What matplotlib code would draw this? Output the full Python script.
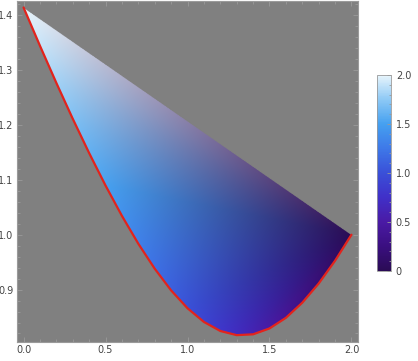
import numpy as np
import matplotlib
matplotlib.use("Agg")
import matplotlib.pyplot as plt
import matplotlib.tri as mtri
from matplotlib.colors import LinearSegmentedColormap, Normalize
from matplotlib.ticker import MultipleLocator, FormatStrFormatter
import matplotlib.cm as cm

# lower boundary (red curve)
curve_x = [0.0, 0.1, 0.2, 0.3, 0.4, 0.5, 0.6, 0.7, 0.8, 0.9, 1.0,
           1.1, 1.2, 1.3, 1.4, 1.5, 1.6, 1.7, 1.8, 1.9, 2.0]
curve_y = [1.4142, 1.3444, 1.2767, 1.2114, 1.1489, 1.0897, 1.0344, 0.9836,
           0.9381, 0.8986, 0.8660, 0.8411, 0.8246, 0.8170, 0.8185, 0.8292,
           0.8485, 0.8761, 0.9110, 0.9526, 1.0]
# colour value at each boundary point
curve_val = [2.0, 1.9, 1.8, 1.7, 1.6, 1.5, 1.4, 1.3, 1.2, 1.1, 1.0,
             0.9, 0.8, 0.7, 0.6, 0.5, 0.4, 0.3, 0.2, 0.1, 0.0]

cbar_ticks = [0, 0.5, 1.0, 1.5, 2.0]
cbar_labels = ["0", "0.5", "1.0", "1.5", "2.0"]

deepsea = LinearSegmentedColormap.from_list("deepsea", [
    (0.00, "#2a0b55"),
    (0.125, "#3a0f80"),
    (0.25, "#4a1aa5"),
    (0.375, "#4030c8"),
    (0.50, "#3a50d8"),
    (0.625, "#3e78e8"),
    (0.75, "#45a0f0"),
    (0.875, "#8cc8f5"),
    (1.00, "#e8f5fc"),
])

bg = "#808080"
txt = "#444444"
frame_c = "#9a9a9a"

xlim = (-0.04, 2.04)
ylim = (0.8045, 1.426)

fig = plt.figure(figsize=(4.18, 3.61), dpi=100)
ax = fig.add_axes([17 / 418, 19 / 361, 341 / 418, 341 / 361])
ax.set_facecolor(bg)

norm = Normalize(0, 2)
n = len(curve_x)
# region filled as a fan of vertex-coloured triangles from the right corner,
# colours blended linearly in RGB (like a polygon with vertex colours)
tris = [[n - 1, i, i + 1] for i in range(n - 2)]
tri = mtri.Triangulation(curve_x, curve_y, tris)
vcols = deepsea(norm(np.array(curve_val)))
gx, gy = np.meshgrid(np.linspace(*xlim, 900), np.linspace(*ylim, 800))
rgba = np.zeros(gx.shape + (4,))
for k in range(3):
    interp = mtri.LinearTriInterpolator(tri, vcols[:, k])
    ch = interp(gx, gy)
    rgba[..., k] = ch.filled(0.5)  # grey outside so edges blend into bg
    rgba[..., 3] = (~ch.mask).astype(float)
ax.imshow(rgba, extent=(*xlim, *ylim), origin="lower", aspect="auto",
          zorder=1)

ax.plot(curve_x, curve_y, color="#e3231c", lw=1.6, zorder=3,
        solid_capstyle="round", solid_joinstyle="round")

ax.set_xlim(*xlim)
ax.set_ylim(*ylim)
ax.xaxis.set_major_locator(MultipleLocator(0.5))
ax.xaxis.set_minor_locator(MultipleLocator(0.1))
ax.yaxis.set_major_locator(MultipleLocator(0.1))
ax.yaxis.set_minor_locator(MultipleLocator(0.02))
ax.xaxis.set_major_formatter(FormatStrFormatter("%.1f"))
ax.yaxis.set_major_formatter(FormatStrFormatter("%.1f"))
ax.tick_params(which="both", direction="in", top=True, right=True,
               color=frame_c, labelcolor=txt, labelsize=7, width=0.6)
ax.tick_params(which="major", length=3.5, pad=2.5)
ax.tick_params(which="minor", length=2)
for s in ax.spines.values():
    s.set_color(frame_c)
    s.set_linewidth(0.8)

cax = fig.add_axes([377 / 418, 90 / 361, 14 / 418, 196 / 361])
cb = fig.colorbar(cm.ScalarMappable(norm=norm, cmap=deepsea), cax=cax)
cb.set_ticks(cbar_ticks)
cb.set_ticklabels(cbar_labels)
cb.ax.yaxis.set_minor_locator(MultipleLocator(0.1))
cb.outline.set_edgecolor(frame_c)
cb.outline.set_linewidth(0.6)
cb.ax.tick_params(which="both", color=frame_c, labelcolor=txt, labelsize=7,
                  width=0.6, direction="in")
cb.ax.tick_params(which="major", length=3)
cb.ax.tick_params(which="minor", length=1.5)

fig.savefig("out.png", dpi=100)
